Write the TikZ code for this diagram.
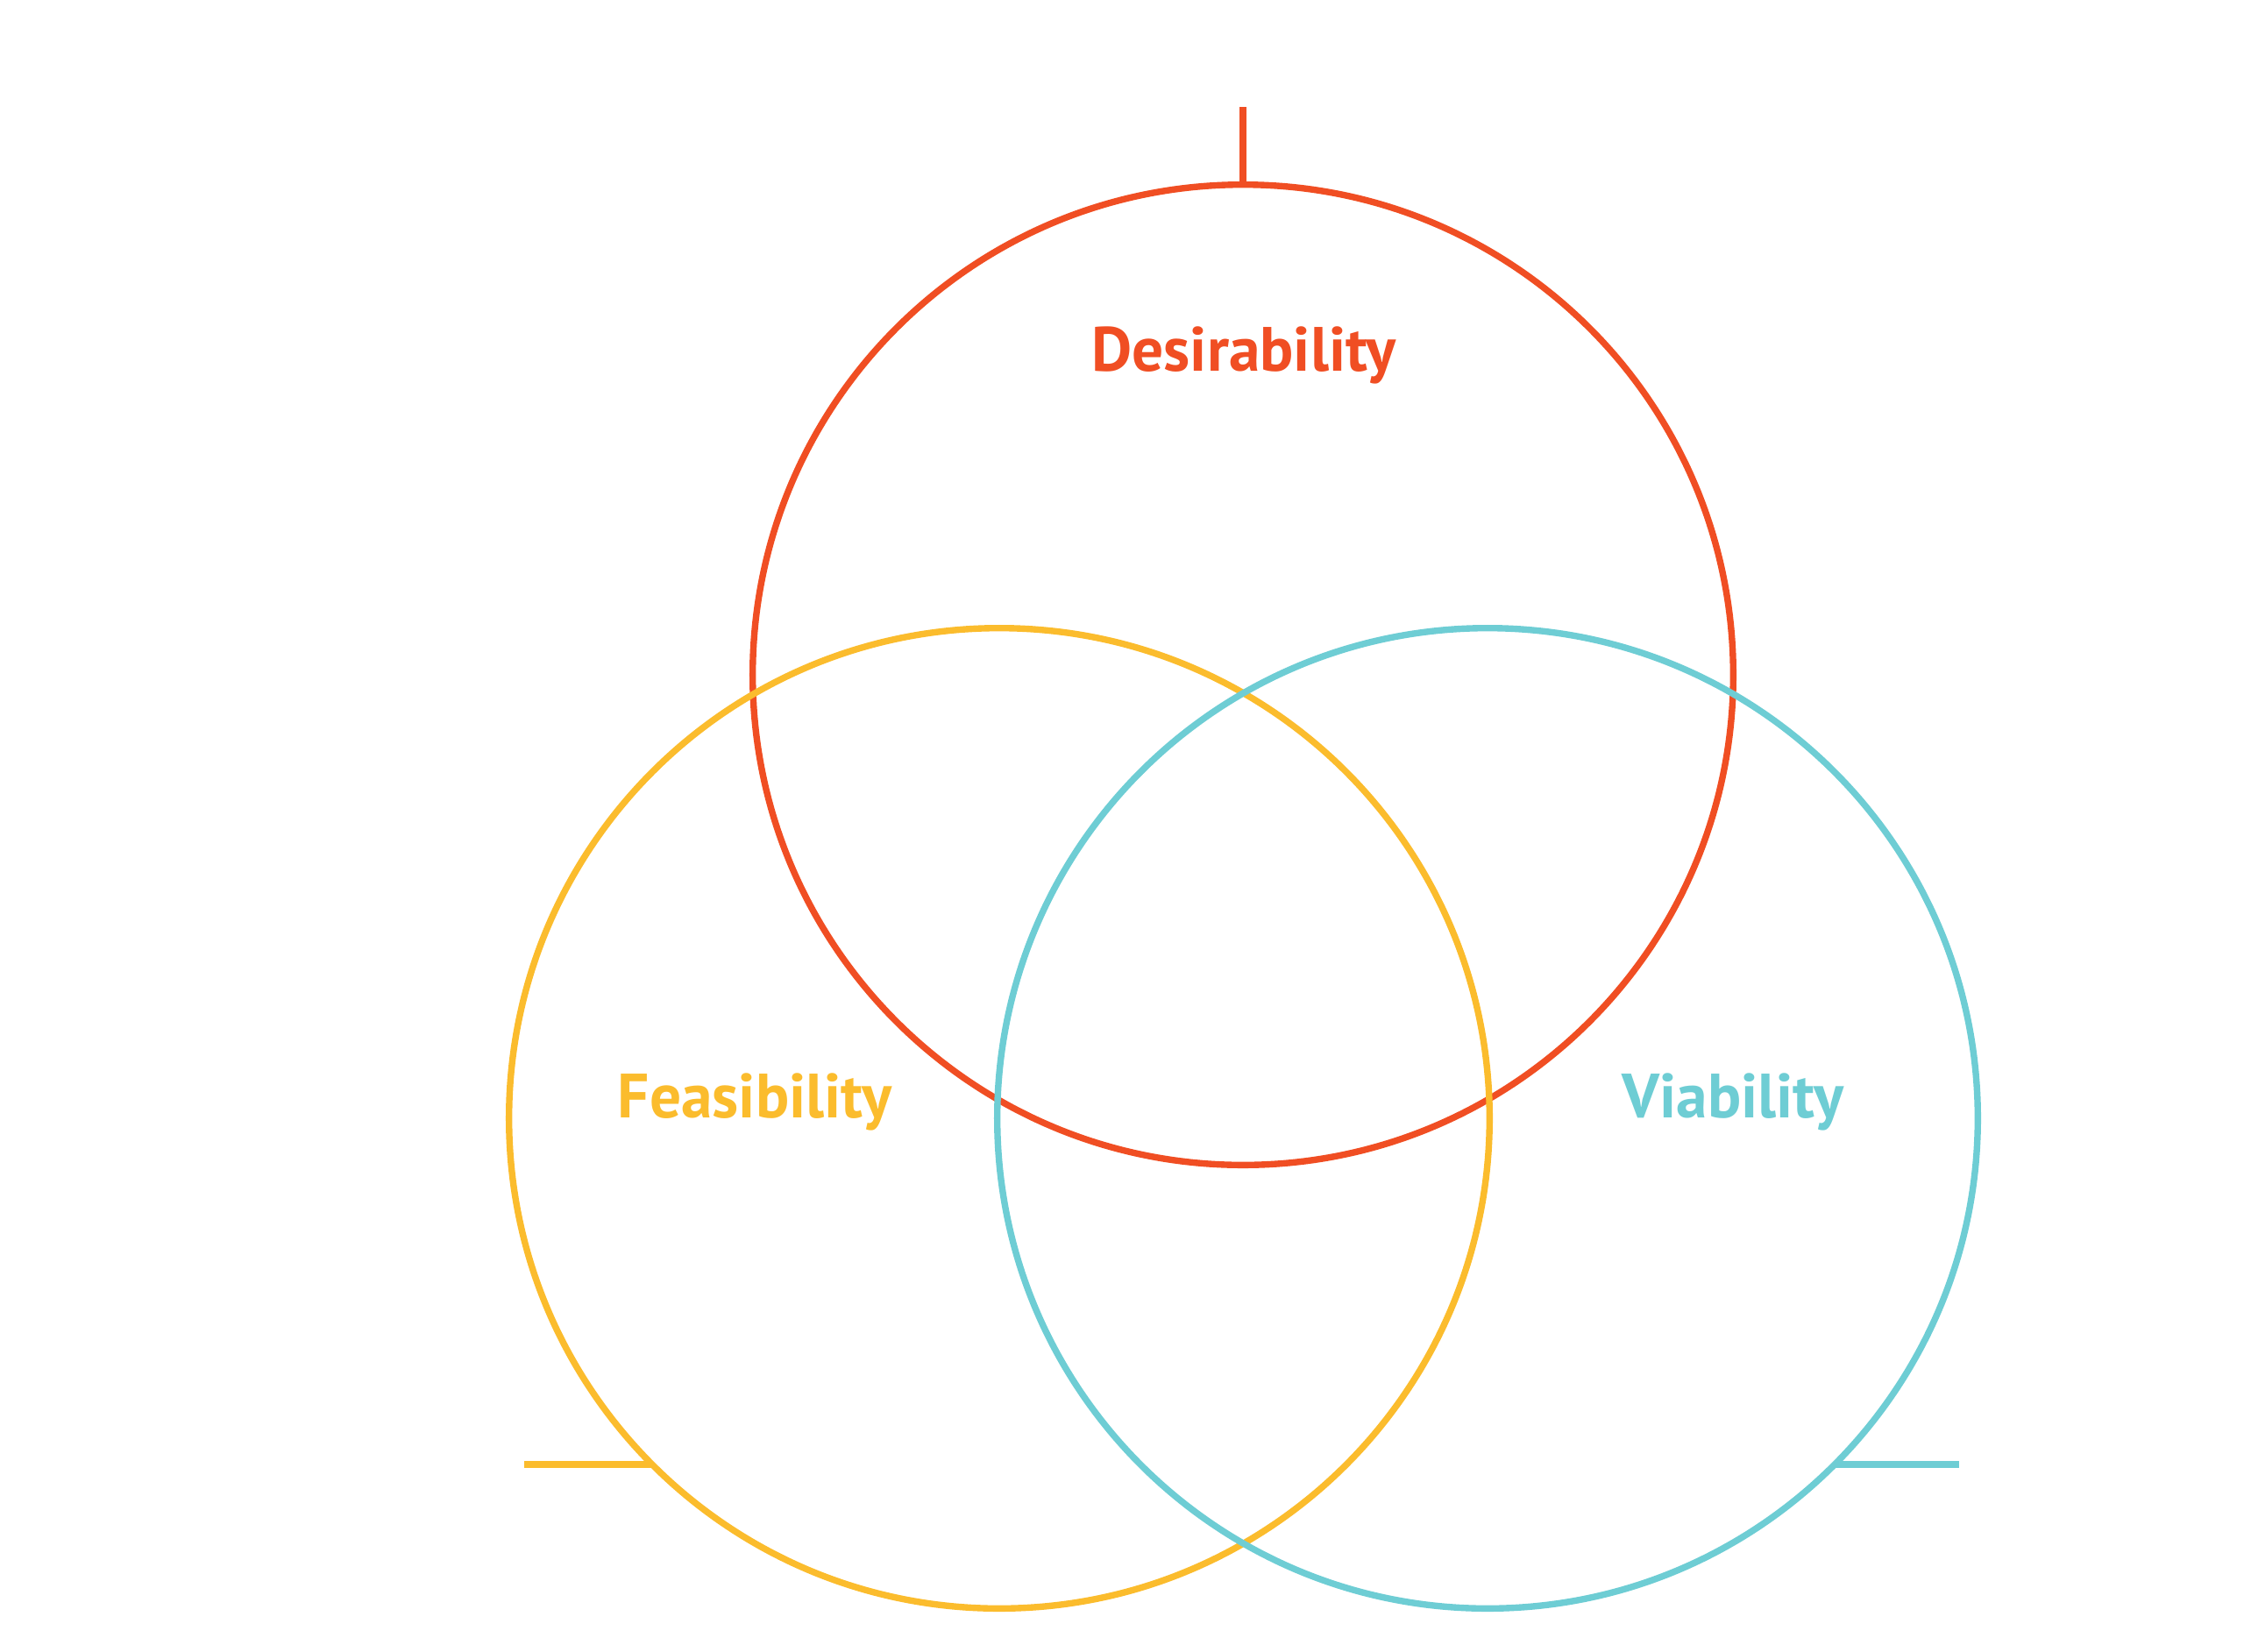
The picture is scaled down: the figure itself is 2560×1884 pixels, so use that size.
\documentclass[tikz,border=0pt]{standalone}
\usepackage{fontspec}
\setmainfont{PT Sans}
\usepackage{tikz}
\usetikzlibrary{positioning}
\definecolor{desred}{HTML}{F04E23}
\definecolor{feayellow}{HTML}{FBBC2D}
\definecolor{viacyan}{HTML}{6ECDD4}

\begin{document}
\begin{tikzpicture}[x=0.01cm,y=-0.01cm]
        \tikzset{ring/.style={shape=circle,draw,line width=2.1pt,minimum size=11.18cm,inner sep=0pt,outer sep=0pt}}
        \tikzset{label/.style={font=\fontsize{20.3}{24}\selectfont\bfseries,anchor=base}}
        \tikzset{tick/.style={line width=2.1pt}}

        \useasboundingbox (0,0) rectangle (2560,1884);

        \node[ring,desred] (D) at (1418,770) {};
        \node[ring,feayellow] (F) at (1140,1276) {};
        \node[ring,viacyan] (V) at (1697,1276) {};

        \node[label,text=desred] (Dl) at (1419,423) {Desirability};
        \node[label,text=feayellow] (Fl) at (861,1275) {Feasibility};
        \node[label,text=viacyan] (Vl) at (1977,1275) {Viability};

        \coordinate (Dt) at (1418,122);
        \coordinate (Ft) at (598,1671);
        \coordinate (Vt) at (2235,1671);

        \draw[tick,desred] (D.north) -- (Dt);
        \draw[tick,feayellow] (Ft) -- (Ft -| F.225);
        \draw[tick,viacyan] (Vt -| V.-45) -- (Vt);
    \end{tikzpicture}
\end{document}
